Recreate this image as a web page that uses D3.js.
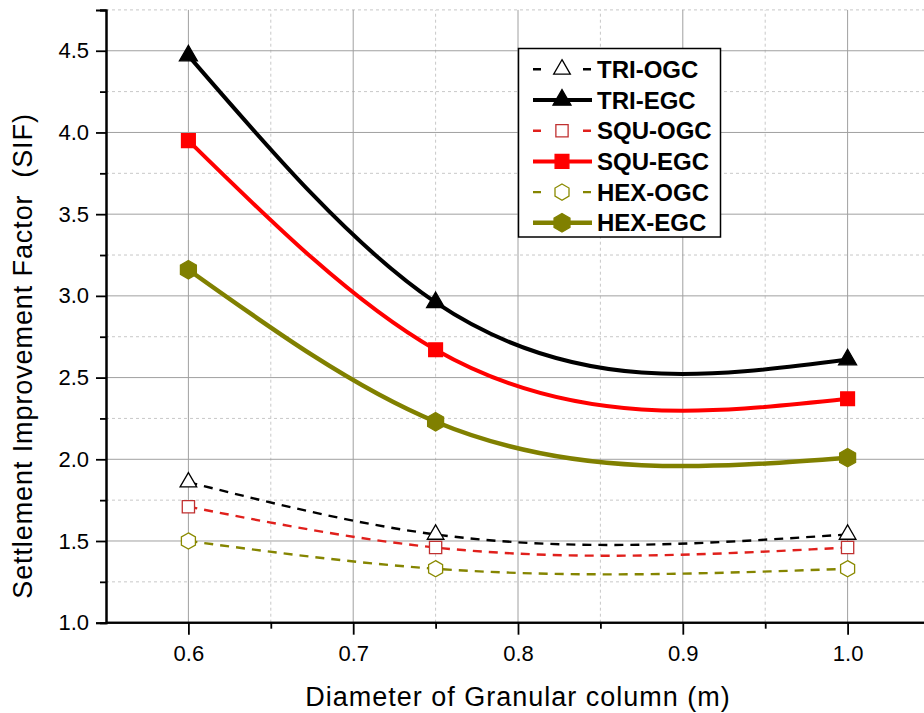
<!DOCTYPE html>
<html>
<head>
<meta charset="utf-8">
<script src="https://cdn.jsdelivr.net/npm/d3@7"></script>
<style>
  body { margin: 0; background: #fff; }
  text { font-family: "Liberation Sans", Arial, sans-serif; }
</style>
</head>
<body>
<div id="app"></div>
<script>
// diameters (m)
const diameters = [0.6, 0.75, 1.0];

// settlement improvement factor per pattern
const triOGC = [1.86, 1.54, 1.54];
const triEGC = [4.47, 2.96, 2.61];
const squOGC = [1.71, 1.46, 1.46];
const squEGC = [3.95, 2.67, 2.37];
const hexOGC = [1.50, 1.33, 1.33];
const hexEGC = [3.16, 2.23, 2.01];

const seriesNames = ['TRI-OGC', 'TRI-EGC', 'SQU-OGC', 'SQU-EGC', 'HEX-OGC', 'HEX-EGC'];

const xTicks = [0.6, 0.7, 0.8, 0.9, 1.0];
const xMinor = [0.65, 0.75, 0.85, 0.95, 1.05];
const yTicks = [1.0, 1.5, 2.0, 2.5, 3.0, 3.5, 4.0, 4.5];
const yMinor = [1.25, 1.75, 2.25, 2.75, 3.25, 3.75, 4.25, 4.75];

const WIDTH = 924, HEIGHT = 713;

// hexagon, pointy top
const symbolHexagon = {
  draw(ctx, size) {
    const r = Math.sqrt(size / (3 * Math.sqrt(3) / 2));
    for (let k = 0; k < 6; k++) {
      const a = -Math.PI / 2 + k * Math.PI / 3;
      const px = r * Math.cos(a), py = r * Math.sin(a);
      if (k === 0) ctx.moveTo(px, py); else ctx.lineTo(px, py);
    }
    ctx.closePath();
  }
};

// natural cubic spline y(x), like Origin's spline connection
function NaturalX(context) { this._context = context; }
NaturalX.prototype = {
  areaStart() { this._line = 0; },
  areaEnd() { this._line = NaN; },
  lineStart() { this._x = []; this._y = []; },
  point(x, y) { this._x.push(+x); this._y.push(+y); },
  lineEnd() {
    const x = this._x, y = this._y, n = x.length, ctx = this._context;
    if (!n) return;
    ctx.moveTo(x[0], y[0]);
    if (n === 2) { ctx.lineTo(x[1], y[1]); return; }
    const h = [], M = new Array(n).fill(0);
    for (let i = 0; i < n - 1; i++) h.push(x[i + 1] - x[i]);
    // Thomas algorithm for the inner second derivatives
    const a = [], b = [], c = [], d = [];
    for (let i = 1; i < n - 1; i++) {
      a.push(h[i - 1]);
      b.push(2 * (h[i - 1] + h[i]));
      c.push(h[i]);
      d.push(6 * ((y[i + 1] - y[i]) / h[i] - (y[i] - y[i - 1]) / h[i - 1]));
    }
    const m = b.length;
    for (let i = 1; i < m; i++) {
      const w = a[i] / b[i - 1];
      b[i] -= w * c[i - 1];
      d[i] -= w * d[i - 1];
    }
    const sol = new Array(m);
    sol[m - 1] = d[m - 1] / b[m - 1];
    for (let i = m - 2; i >= 0; i--) sol[i] = (d[i] - c[i] * sol[i + 1]) / b[i];
    for (let i = 0; i < m; i++) M[i + 1] = sol[i];
    for (let i = 0; i < n - 1; i++) {
      const hh = h[i], s = (y[i + 1] - y[i]) / hh;
      const d0 = s - hh * (2 * M[i] + M[i + 1]) / 6;
      const d1 = s + hh * (M[i] + 2 * M[i + 1]) / 6;
      ctx.bezierCurveTo(x[i] + hh / 3, y[i] + d0 * hh / 3,
                        x[i + 1] - hh / 3, y[i + 1] - d1 * hh / 3,
                        x[i + 1], y[i + 1]);
    }
  }
};
const curveNaturalX = ctx => new NaturalX(ctx);

const series = [
  { name: seriesNames[0], values: triOGC, color: '#000', mark: '#000', fill: '#fff', width: 2.4, dash: '9,7', symbol: d3.symbolTriangle, size: 120 },
  { name: seriesNames[1], values: triEGC, color: '#000', mark: '#000', fill: '#000', width: 4, dash: null, symbol: d3.symbolTriangle, size: 140 },
  { name: seriesNames[2], values: squOGC, color: '#e0201c', mark: '#c03030', fill: '#fff', width: 2.4, dash: '9,7', symbol: d3.symbolSquare, size: 150 },
  { name: seriesNames[3], values: squEGC, color: '#ff0000', mark: '#ff0000', fill: '#ff0000', width: 4, dash: null, symbol: d3.symbolSquare, size: 190 },
  { name: seriesNames[4], values: hexOGC, color: '#858500', mark: '#8a8a00', fill: '#fff', width: 2.4, dash: '9,7', symbol: symbolHexagon, size: 170 },
  { name: seriesNames[5], values: hexEGC, color: '#808000', mark: '#808000', fill: '#808000', width: 4.5, dash: null, symbol: symbolHexagon, size: 220 }
];

const svg = d3.select('#app')
  .append('svg')
    .attr('width', WIDTH)
    .attr('height', HEIGHT);

svg.append('rect').attr('width', WIDTH).attr('height', HEIGHT).attr('fill', '#fff');

const x = d3.scaleLinear().domain([0.55, 1.05]).range([106, 930]);
const y = d3.scaleLinear().domain([1.0, 4.75]).range([622.7, 9.9]);

// grid
const grid = svg.append('g');
grid.selectAll('.gxmin').data(xMinor).enter().append('line')
  .attr('x1', d => x(d)).attr('x2', d => x(d))
  .attr('y1', y(1.0)).attr('y2', y(4.75))
  .attr('stroke', '#c8c8c8').attr('stroke-dasharray', '3,3');
grid.selectAll('.gymin').data(yMinor).enter().append('line')
  .attr('x1', x(0.55)).attr('x2', WIDTH)
  .attr('y1', d => y(d)).attr('y2', d => y(d))
  .attr('stroke', '#c8c8c8').attr('stroke-dasharray', '3,3');
grid.selectAll('.gx').data(xTicks).enter().append('line')
  .attr('x1', d => x(d)).attr('x2', d => x(d))
  .attr('y1', y(1.0)).attr('y2', y(4.75))
  .attr('stroke', '#a0a0a0');
grid.selectAll('.gy').data(yTicks.slice(1)).enter().append('line')
  .attr('x1', x(0.55)).attr('x2', WIDTH)
  .attr('y1', d => y(d)).attr('y2', d => y(d))
  .attr('stroke', '#a0a0a0');

// curves
const line = d3.line()
  .x((d, i) => x(diameters[i]))
  .y(d => y(d))
  .curve(curveNaturalX);

svg.selectAll('.curve').data(series).enter().append('path')
  .attr('d', s => line(s.values))
  .attr('fill', 'none')
  .attr('stroke', s => s.color)
  .attr('stroke-width', s => s.width)
  .attr('stroke-dasharray', s => s.dash);

// markers
series.forEach(s => {
  svg.selectAll(null).data(s.values).enter().append('path')
    .attr('transform', (d, i) => `translate(${x(diameters[i])},${y(d)})`)
    .attr('d', d3.symbol().type(s.symbol).size(s.size))
    .attr('fill', s.fill)
    .attr('stroke', s.mark)
    .attr('stroke-width', 1.3);
});

// axes
const xAxis = svg.append('g').attr('transform', `translate(0,${y(1.0)})`);
xAxis.call(d3.axisBottom(x).tickValues(xMinor).tickSize(6).tickFormat(''));
xAxis.append('g').call(d3.axisBottom(x).tickValues(xTicks).tickSize(12).tickPadding(11).tickFormat(d3.format('.1f')));
xAxis.selectAll('path.domain').attr('d', `M${x(0.55)},0H${WIDTH}`);

const yAxis = svg.append('g').attr('transform', `translate(${x(0.55)},0)`);
yAxis.call(d3.axisLeft(y).tickValues(yMinor).tickSize(6).tickFormat(''));
yAxis.append('g').call(d3.axisLeft(y).tickValues(yTicks).tickSize(10).tickPadding(7).tickFormat(d3.format('.1f')));

svg.selectAll('.domain').attr('stroke', '#000').attr('stroke-width', 2);
svg.selectAll('.tick line').attr('stroke', '#000').attr('stroke-width', 1.8);
svg.selectAll('.tick text')
  .attr('fill', '#000')
  .style('font-size', '22px')
  .style('font-family', '"Liberation Sans", Arial, sans-serif');

// axis titles
svg.append('text')
  .attr('x', 518).attr('y', 706)
  .attr('text-anchor', 'middle')
  .style('font-size', '27px')
  .style('letter-spacing', '1px')
  .text('Diameter of Granular column (m)');

svg.append('text')
  .attr('transform', 'translate(32,356) rotate(-90)')
  .attr('text-anchor', 'middle')
  .style('font-size', '27px')
  .style('letter-spacing', '0.9px')
  .style('white-space', 'pre')
  .text('Settlement Improvement Factor  (SIF)');

// legend
const legend = svg.append('g');
legend.append('rect')
  .attr('x', 518.5).attr('y', 48.5)
  .attr('width', 202).attr('height', 188.5)
  .attr('fill', '#fff').attr('stroke', '#000').attr('stroke-width', 1.5);

const item = legend.selectAll('.item').data(series).enter().append('g')
  .attr('transform', (s, i) => `translate(0,${69.3 + i * 30.7})`);

item.append('line')
  .attr('x1', 533).attr('x2', 592)
  .attr('stroke', s => s.color)
  .attr('stroke-width', s => s.width)
  .attr('stroke-dasharray', s => s.dash ? '8,42' : null);
item.append('path')
  .attr('transform', 'translate(562,0)')
  .attr('d', s => d3.symbol().type(s.symbol).size(s.size)())
  .attr('fill', s => s.fill)
  .attr('stroke', s => s.mark)
  .attr('stroke-width', 1.3);
item.append('text')
  .attr('x', 597).attr('y', 8.5)
  .style('font-size', '24px')
  .style('font-weight', 'bold')
  .text(s => s.name);
</script>
</body>
</html>
